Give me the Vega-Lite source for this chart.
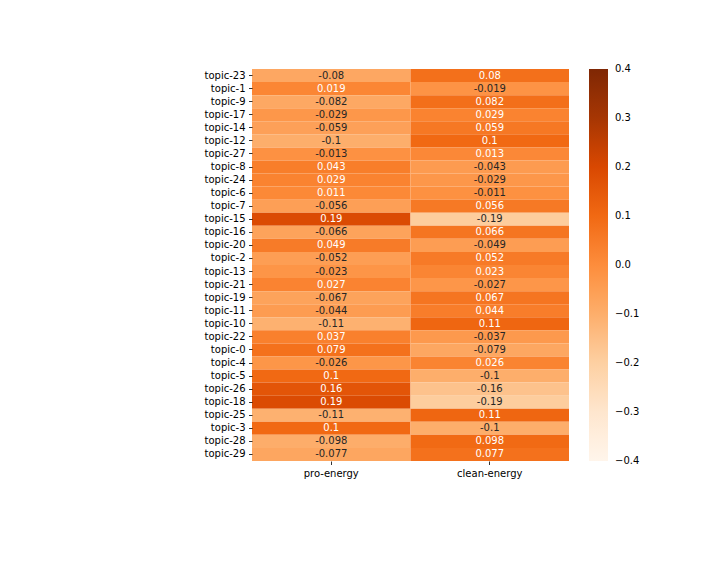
{
  "$schema": "https://vega.github.io/schema/vega-lite/v6.json",
  "width": 317,
  "height": 392,
  "autosize": {"type": "none"},
  "padding": {"left": 252, "top": 69, "right": 151, "bottom": 115},
  "background": "white",
  "config": {
    "view": {"stroke": null},
    "font": "DejaVu Sans",
    "axis": {"labelFont": "DejaVu Sans", "labelFontSize": 10, "labelColor": "#000000", "tickColor": "#000000", "tickSize": 3.5, "tickWidth": 0.8, "domain": false, "grid": false, "title": null, "labelPadding": 3.5},
    "legend": {"labelFont": "DejaVu Sans", "labelFontSize": 10, "labelColor": "#000000"}
  },
  "data": {
    "values": [
      {"topic": "topic-23", "group": "pro-energy", "value": -0.08},
      {"topic": "topic-1", "group": "pro-energy", "value": 0.019},
      {"topic": "topic-9", "group": "pro-energy", "value": -0.082},
      {"topic": "topic-17", "group": "pro-energy", "value": -0.029},
      {"topic": "topic-14", "group": "pro-energy", "value": -0.059},
      {"topic": "topic-12", "group": "pro-energy", "value": -0.1},
      {"topic": "topic-27", "group": "pro-energy", "value": -0.013},
      {"topic": "topic-8", "group": "pro-energy", "value": 0.043},
      {"topic": "topic-24", "group": "pro-energy", "value": 0.029},
      {"topic": "topic-6", "group": "pro-energy", "value": 0.011},
      {"topic": "topic-7", "group": "pro-energy", "value": -0.056},
      {"topic": "topic-15", "group": "pro-energy", "value": 0.19},
      {"topic": "topic-16", "group": "pro-energy", "value": -0.066},
      {"topic": "topic-20", "group": "pro-energy", "value": 0.049},
      {"topic": "topic-2", "group": "pro-energy", "value": -0.052},
      {"topic": "topic-13", "group": "pro-energy", "value": -0.023},
      {"topic": "topic-21", "group": "pro-energy", "value": 0.027},
      {"topic": "topic-19", "group": "pro-energy", "value": -0.067},
      {"topic": "topic-11", "group": "pro-energy", "value": -0.044},
      {"topic": "topic-10", "group": "pro-energy", "value": -0.11},
      {"topic": "topic-22", "group": "pro-energy", "value": 0.037},
      {"topic": "topic-0", "group": "pro-energy", "value": 0.079},
      {"topic": "topic-4", "group": "pro-energy", "value": -0.026},
      {"topic": "topic-5", "group": "pro-energy", "value": 0.1},
      {"topic": "topic-26", "group": "pro-energy", "value": 0.16},
      {"topic": "topic-18", "group": "pro-energy", "value": 0.19},
      {"topic": "topic-25", "group": "pro-energy", "value": -0.11},
      {"topic": "topic-3", "group": "pro-energy", "value": 0.1},
      {"topic": "topic-28", "group": "pro-energy", "value": -0.098},
      {"topic": "topic-29", "group": "pro-energy", "value": -0.077},
      {"topic": "topic-23", "group": "clean-energy", "value": 0.08},
      {"topic": "topic-1", "group": "clean-energy", "value": -0.019},
      {"topic": "topic-9", "group": "clean-energy", "value": 0.082},
      {"topic": "topic-17", "group": "clean-energy", "value": 0.029},
      {"topic": "topic-14", "group": "clean-energy", "value": 0.059},
      {"topic": "topic-12", "group": "clean-energy", "value": 0.1},
      {"topic": "topic-27", "group": "clean-energy", "value": 0.013},
      {"topic": "topic-8", "group": "clean-energy", "value": -0.043},
      {"topic": "topic-24", "group": "clean-energy", "value": -0.029},
      {"topic": "topic-6", "group": "clean-energy", "value": -0.011},
      {"topic": "topic-7", "group": "clean-energy", "value": 0.056},
      {"topic": "topic-15", "group": "clean-energy", "value": -0.19},
      {"topic": "topic-16", "group": "clean-energy", "value": 0.066},
      {"topic": "topic-20", "group": "clean-energy", "value": -0.049},
      {"topic": "topic-2", "group": "clean-energy", "value": 0.052},
      {"topic": "topic-13", "group": "clean-energy", "value": 0.023},
      {"topic": "topic-21", "group": "clean-energy", "value": -0.027},
      {"topic": "topic-19", "group": "clean-energy", "value": 0.067},
      {"topic": "topic-11", "group": "clean-energy", "value": 0.044},
      {"topic": "topic-10", "group": "clean-energy", "value": 0.11},
      {"topic": "topic-22", "group": "clean-energy", "value": -0.037},
      {"topic": "topic-0", "group": "clean-energy", "value": -0.079},
      {"topic": "topic-4", "group": "clean-energy", "value": 0.026},
      {"topic": "topic-5", "group": "clean-energy", "value": -0.1},
      {"topic": "topic-26", "group": "clean-energy", "value": -0.16},
      {"topic": "topic-18", "group": "clean-energy", "value": -0.19},
      {"topic": "topic-25", "group": "clean-energy", "value": 0.11},
      {"topic": "topic-3", "group": "clean-energy", "value": -0.1},
      {"topic": "topic-28", "group": "clean-energy", "value": 0.098},
      {"topic": "topic-29", "group": "clean-energy", "value": 0.077}
    ]
  },
  "encoding": {
    "x": {"field": "group", "type": "nominal", "sort": ["pro-energy", "clean-energy"], "scale": {"paddingInner": 0, "paddingOuter": 0}, "axis": {"labelAngle": 0, "orient": "bottom"}},
    "y": {"field": "topic", "type": "nominal", "sort": null, "scale": {"paddingInner": 0, "paddingOuter": 0}}
  },
  "layer": [
    {
      "mark": {"type": "rect", "strokeWidth": 0},
      "encoding": {
        "color": {
          "field": "value", "type": "quantitative",
          "scale": {"domain": [-0.4, 0.4], "range": ["#fff5eb", "#fee6ce", "#fdd0a2", "#fdae6b", "#fd8d3c", "#f16913", "#d94801", "#a63603", "#7f2704"], "interpolate": "rgb"},
          "legend": {
            "type": "gradient",
            "title": null, "orient": "right", "offset": 20, "padding": 0,
            "direction": "vertical", "gradientLength": 392, "gradientThickness": 19,
            "gradientStrokeWidth": 0, "values": [-0.4, -0.3, -0.2, -0.1, 0, 0.1, 0.2, 0.3, 0.4],
            "format": ".1f", "labelOffset": 7, "labelOverlap": false, "labelBaseline": "middle",
            "encode": {"labels": {"update": {"y": {"signal": "(1 - datum.perc) * 392"}, "baseline": {"value": "middle"}}}}
          }
        }
      }
    },
    {
      "mark": {"type": "text", "fontSize": 10, "font": "DejaVu Sans"},
      "encoding": {
        "text": {"field": "value", "type": "nominal"},
        "color": {"condition": {"test": "datum.value > 0", "value": "#ffffff"}, "value": "#262626"}
      }
    }
  ]
}
